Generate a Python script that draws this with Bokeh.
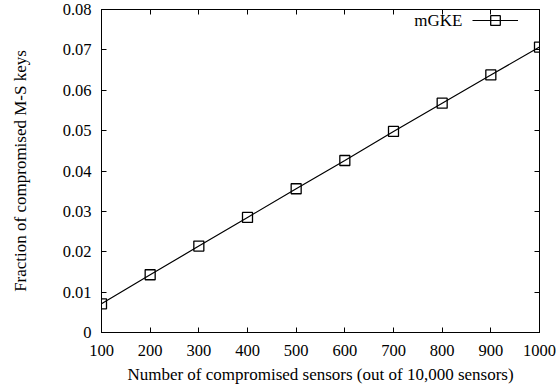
from bokeh.plotting import figure
from bokeh.models import (FixedTicker, LinearAxis, Range1d, Legend, LegendItem, Label)
from bokeh.embed import file_html
from bokeh.resources import INLINE

# data
sensors = [100, 200, 300, 400, 500, 600, 700, 800, 900, 1000]
fraction = [0.0071, 0.0143, 0.0214, 0.0285, 0.0356, 0.0426, 0.0498, 0.0568, 0.0638, 0.0707]
x_ticks = [100, 200, 300, 400, 500, 600, 700, 800, 900, 1000]
y_ticks = [0, 0.01, 0.02, 0.03, 0.04, 0.05, 0.06, 0.07, 0.08]
y_tick_labels = ["0", "0.01", "0.02", "0.03", "0.04", "0.05", "0.06", "0.07", "0.08"]
series_name = "mGKE"
x_title = "Number of compromised sensors (out of 10,000 sensors)"
y_title = "Fraction of compromised M-S keys"

FONT = "Liberation Serif"

p = figure(width=560, height=390, output_backend="svg", toolbar_location=None,
           x_range=Range1d(100, 1000), y_range=Range1d(0, 0.08),
           min_border_left=101, min_border_right=21, min_border_top=9, min_border_bottom=58)
p.background_fill_color = "white"
p.border_fill_color = "white"
p.outline_line_color = "black"
p.outline_line_width = 1
p.grid.visible = False

for ax in (p.xaxis[0], p.yaxis[0]):
    ax.axis_line_color = "black"
    ax.major_tick_in = 5
    ax.major_tick_out = 0
    ax.minor_tick_line_color = None
    ax.major_label_text_font = FONT
    ax.major_label_text_font_size = "16.5px"
    ax.major_label_text_color = "black"
    ax.axis_label_text_font = FONT
    ax.axis_label_text_font_size = "17px"
    ax.axis_label_text_font_style = "normal"
    ax.axis_label_text_color = "black"

p.xaxis[0].ticker = FixedTicker(ticks=x_ticks)
p.yaxis[0].ticker = FixedTicker(ticks=y_ticks)
p.yaxis[0].major_label_overrides = {t: l for t, l in zip(y_ticks, y_tick_labels)}
p.xaxis[0].axis_label = x_title
p.yaxis[0].axis_label = y_title
p.xaxis[0].major_label_standoff = 12
p.yaxis[0].major_label_standoff = 10
p.xaxis[0].axis_label_standoff = 6
p.yaxis[0].axis_label_standoff = 30

# mirror ticks (no labels)
top = LinearAxis(ticker=FixedTicker(ticks=x_ticks), major_tick_in=5, major_tick_out=0,
                 minor_tick_line_color=None, major_label_standoff=0,
                 major_label_overrides={t: "" for t in x_ticks},
                 axis_line_color="black")
right = LinearAxis(ticker=FixedTicker(ticks=y_ticks), major_tick_in=5, major_tick_out=0,
                   minor_tick_line_color=None, major_label_standoff=0,
                   major_label_overrides={t: "" for t in y_ticks},
                   axis_line_color="black")
p.add_layout(top, "above")
p.add_layout(right, "right")

ln = p.line(sensors, fraction, line_color="black", line_width=1.2)
sc = p.scatter(sensors, fraction, marker="square", size=10, fill_color=None,
               line_color="black", line_width=1.3)

legend = Legend(items=[LegendItem(label=" ", renderers=[ln, sc])],
                location=(371, 300), orientation="vertical",
                glyph_width=46, glyph_height=24, label_width=0, label_standoff=0,
                padding=0, margin=0, spacing=0,
                border_line_color=None, background_fill_alpha=0)
legend.label_text_font_size = "17px"
p.add_layout(legend)

p.add_layout(Label(x=361, y=312, x_units="screen", y_units="screen", text=series_name,
                   text_font=FONT, text_font_size="17px", text_align="right",
                   text_baseline="middle", text_color="black"))

open("out.html", "w").write(file_html(p, INLINE))
